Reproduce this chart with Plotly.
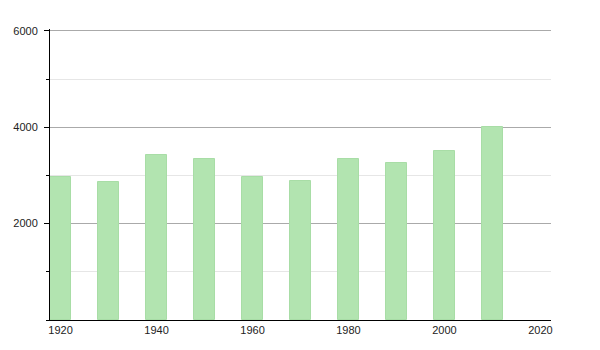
import plotly.graph_objects as go

years = [1920, 1930, 1940, 1950, 1960, 1970, 1980, 1990, 2000, 2010]
population = [2975, 2871, 3425, 3349, 2975, 2892, 3342, 3266, 3508, 4000]
x_tick_vals = [1920, 1940, 1960, 1980, 2000, 2020]
x_tick_text = ["1920", "1940", "1960", "1980", "2000", "2020"]
y_tick_vals = [2000, 4000, 6000]
y_tick_text = ["2000", "4000", "6000"]

fig = go.Figure()
fig.add_trace(go.Bar(
    x=years,
    y=population,
    width=4.4,
    marker=dict(color="rgb(178,228,176)", line=dict(color="rgb(168,221,166)", width=1)),
    hoverinfo="x+y",
))

fig.update_layout(
    width=600, height=350,
    margin=dict(l=50, r=49, t=29, b=30),
    paper_bgcolor="white",
    plot_bgcolor="white",
    showlegend=False,
    font=dict(family="Liberation Sans, Arial, sans-serif", size=11, color="#222"),
    bargap=0,
)
fig.update_xaxes(
    range=[1917.8, 2022.2],
    tickvals=x_tick_vals,
    ticktext=x_tick_text,
    ticks="",
    showgrid=False,
    showline=True,
    linecolor="black",
    linewidth=1,
    zeroline=False,
    tickfont=dict(size=11, color="#222"),
)
fig.update_yaxes(
    range=[0, 6040],
    tickvals=y_tick_vals,
    ticktext=y_tick_text,
    ticks="outside",
    ticklen=5,
    tickcolor="black",
    ticklabelstandoff=4,
    showgrid=True,
    gridcolor="#aaaaaa",
    gridwidth=1,
    showline=True,
    linecolor="black",
    linewidth=1,
    zeroline=False,
    minor=dict(dtick=1000, ticks="outside", ticklen=3, tickcolor="black",
               showgrid=True, gridcolor="#e6e6e6", gridwidth=1),
    tickfont=dict(size=11, color="#222"),
)

fig.write_html("out.html")
